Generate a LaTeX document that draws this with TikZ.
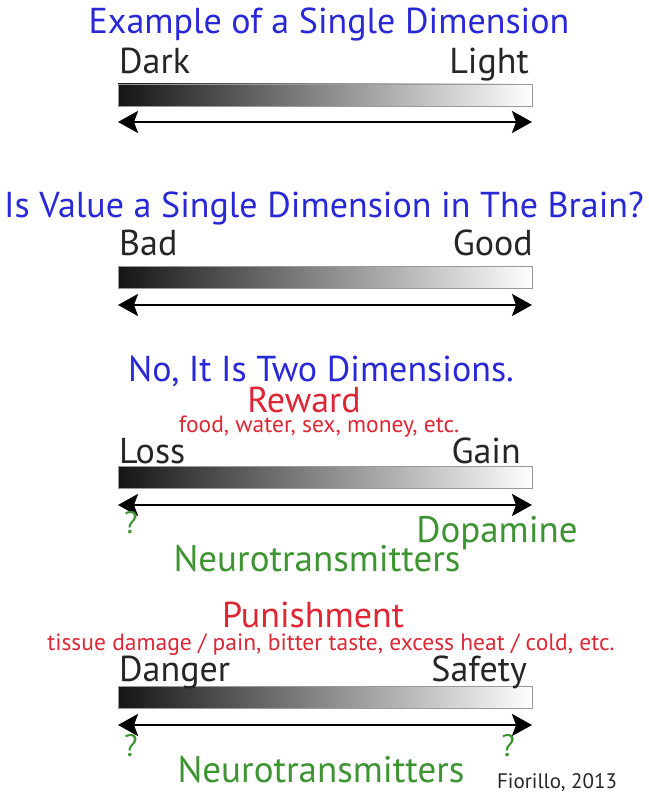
\documentclass[tikz,border=0pt]{standalone}
\usepackage{fontspec}
\setmainfont{PT Sans}
\usetikzlibrary{arrows.meta,positioning}
\definecolor{titleblue}{RGB}{40,40,215}
\definecolor{labelred}{RGB}{222,38,52}
\definecolor{labelgreen}{RGB}{62,148,50}

\begin{document}
\begin{tikzpicture}[
  x=1pt, y=-1pt,
  title/.style={text=titleblue, font=\fontsize{36}{38}\selectfont, inner sep=0pt, anchor=base},
  endlabel/.style={text=black!85, font=\fontsize{36}{38}\selectfont, inner sep=0pt},
  kind/.style={text=labelred, font=\fontsize{36}{38}\selectfont, inner sep=0pt, anchor=base},
  examples/.style={text=labelred, font=\fontsize{23.5}{25}\selectfont, inner sep=0pt, anchor=base},
  chem/.style={text=labelgreen, font=\fontsize{37}{39}\selectfont, inner sep=0pt, anchor=base},
  qmark/.style={text=labelgreen, font=\fontsize{31}{33}\selectfont, inner sep=0pt, anchor=base},
  bar/.style={draw=black!40, line width=0.8pt, left color=black!92, right color=white, minimum width=414pt, minimum height=22pt, inner sep=0pt},
  arrow/.style={{Stealth[length=20pt,width=22pt,inset=4pt]}-{Stealth[length=20pt,width=22pt,inset=4pt]}, line width=2.8pt}
]
\useasboundingbox (0,0) rectangle (648,799);

% single dimension
\node[title] (t1) at (329,34) {Example of a Single Dimension};
\node[bar] (bar1) at (325,95) {};
\node[endlabel, anchor=base west] (dark) at (119,74) {Dark};
\node[endlabel, anchor=base east] (light) at (529,74) {Light};
\coordinate (a1l) at (118,122);
\coordinate (a1r) at (532,122);
\draw[arrow] (a1l) -- (a1r);

% value
\node[title] (t2) at (324,218) {Is Value a Single Dimension in The Brain?};
\node[bar] (bar2) at (325,277) {};
\node[endlabel, anchor=base west] (bad) at (119,255) {Bad};
\node[endlabel, anchor=base east] (good) at (533,255) {Good};
\coordinate (a2l) at (118,305);
\coordinate (a2r) at (532,305);
\draw[arrow] (a2l) -- (a2r);

% reward
\node[title] (t3) at (321,381) {No, It Is Two Dimensions.};
\node[kind] (reward) at (304,412) {Reward};
\node[examples] (food) at (319,432) {food, water, sex, money, etc.};
\node[bar] (bar3) at (325,477) {};
\node[endlabel, anchor=base west] (loss) at (119,463) {Loss};
\node[endlabel, anchor=base east] (gain) at (521,463) {Gain};
\coordinate (a3l) at (118,505);
\coordinate (a3r) at (532,505);
\draw[arrow] (a3l) -- (a3r);
\node[qmark] (q3) at (131,533) {?};
\node[chem] (dopa) at (497,542) {Dopamine};
\node[chem] (nt3) at (317,571) {Neurotransmitters};

% punishment
\node[kind] (punish) at (313,627) {Punishment};
\node[examples] (tissue) at (331,650) {tissue damage / pain, bitter taste, excess heat / cold, etc.};
\node[bar] (bar4) at (325,697) {};
\node[endlabel, anchor=base west] (danger) at (119,681) {Danger};
\node[endlabel, anchor=base east] (safety) at (527,681) {Safety};
\coordinate (a4l) at (118,725);
\coordinate (a4r) at (532,725);
\draw[arrow] (a4l) -- (a4r);
\node[qmark] (q4l) at (131,756) {?};
\node[qmark] (q4r) at (508,756) {?};
\node[chem] (nt4) at (321,782) {Neurotransmitters};
\node[text=black!85, font=\fontsize{21}{22}\selectfont, inner sep=0pt, anchor=base] (cite) at (557,788) {Fiorillo, 2013};
\end{tikzpicture}
\end{document}
